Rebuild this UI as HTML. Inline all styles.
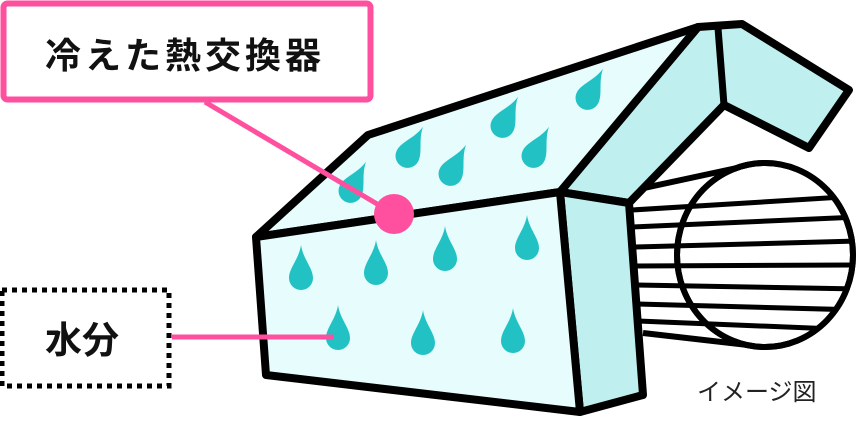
<!DOCTYPE html>
<html><head><meta charset="utf-8"><style>
html,body{margin:0;padding:0;background:#fff;}
body{width:856px;height:444px;overflow:hidden;}
svg{display:block}
text{font-family:"Liberation Sans","Noto Sans CJK JP",sans-serif;}
</style></head><body>
<svg width="856" height="444" viewBox="0 0 856 444" xmlns="http://www.w3.org/2000/svg">
<defs>
<path id="d" d="M0,-32 C2,-18 12,-9 12,1 A12,12 0 1 1 -12,1 C-12,-9 -2,-18 0,-32Z" fill="#22c2c4"/>
<clipPath id="cc"><path d="M600,150 L765,150 L765,163 A88,92 0 0 1 765,347 L765,360 L600,360 Z"/></clipPath>
</defs>
<!-- cylinder grille -->
<g stroke="#000" stroke-width="6" fill="#fff">
<path d="M635,190 L760,163 L765,347 L643,333 Z" stroke="none"/>
<line x1="635" y1="190" x2="760" y2="163"/>
<line x1="643" y1="333" x2="765" y2="347"/>
<ellipse cx="765" cy="255" rx="88" ry="92"/>
</g>
<g stroke="#000" stroke-width="5" clip-path="url(#cc)">
<line x1="632" y1="210" x2="860" y2="196"/>
<line x1="632" y1="227" x2="860" y2="217"/>
<line x1="634" y1="247" x2="860" y2="241"/>
<line x1="635" y1="266" x2="860" y2="265"/>
<line x1="636" y1="285" x2="860" y2="289"/>
<line x1="637" y1="304" x2="860" y2="310"/>
<line x1="638" y1="321" x2="860" y2="330"/>
</g>
<ellipse cx="765" cy="255" rx="88" ry="92" fill="none" stroke="#000" stroke-width="6"/>
<!-- elbow duct -->
<path d="M698,27 L742,24 L849,90 L809,148 L724,105 L629,203 L560,192 Z" fill="#bff0ef" stroke="#000" stroke-width="8" stroke-linejoin="round"/>
<line x1="718" y1="28" x2="724" y2="105" stroke="#000" stroke-width="7"/>
<!-- top face -->
<path d="M256,237 L368,135 L698,27 L560,192 Z" fill="#e6fcfd" stroke="#000" stroke-width="8" stroke-linejoin="round"/>
<!-- side face -->
<path d="M560,192 L629,203 L643,395 L580,412 Z" fill="#bff0ef" stroke="#000" stroke-width="8" stroke-linejoin="round"/>
<!-- front face -->
<path d="M256,237 L560,192 L580,412 L266,375 Z" fill="#e6fcfd" stroke="#000" stroke-width="8" stroke-linejoin="round"/>
<g>
<use href="#d" transform="translate(588,97) rotate(28)"/>
<use href="#d" transform="translate(503,125) rotate(28)"/>
<use href="#d" transform="translate(408,155) rotate(28)"/>
<use href="#d" transform="translate(451,173) rotate(28)"/>
<use href="#d" transform="translate(534,155) rotate(28)"/>
<use href="#d" transform="translate(351,190) rotate(28)"/>
<use href="#d" transform="translate(301,277)"/>
<use href="#d" transform="translate(376,272)"/>
<use href="#d" transform="translate(445,258)"/>
<use href="#d" transform="translate(527,247)"/>
<use href="#d" transform="translate(338,337)"/>
<use href="#d" transform="translate(423,342)"/>
<use href="#d" transform="translate(513,340)"/>
</g>
<!-- callouts -->
<line x1="205" y1="102" x2="394" y2="214" stroke="#ff4f9f" stroke-width="5"/>
<circle cx="394" cy="214" r="20" fill="#ff4f9f"/>
<rect x="3.5" y="3.5" width="367" height="96" rx="4" fill="#fff" stroke="#ff4f9f" stroke-width="6"/>
<text x="45" y="68" font-size="36" font-weight="bold" letter-spacing="4" fill="#111">冷えた熱交換器</text>
<line x1="172" y1="337" x2="334" y2="337" stroke="#ff4f9f" stroke-width="5"/>
<rect x="2" y="290" width="167" height="96" fill="#fff" stroke="#000" stroke-width="5" stroke-dasharray="5,5"/>
<text x="45" y="353" font-size="37" font-weight="bold" fill="#111">水分</text>
<text x="697" y="400" font-size="24" fill="#222">イメージ図</text>
</svg>
</body></html>
